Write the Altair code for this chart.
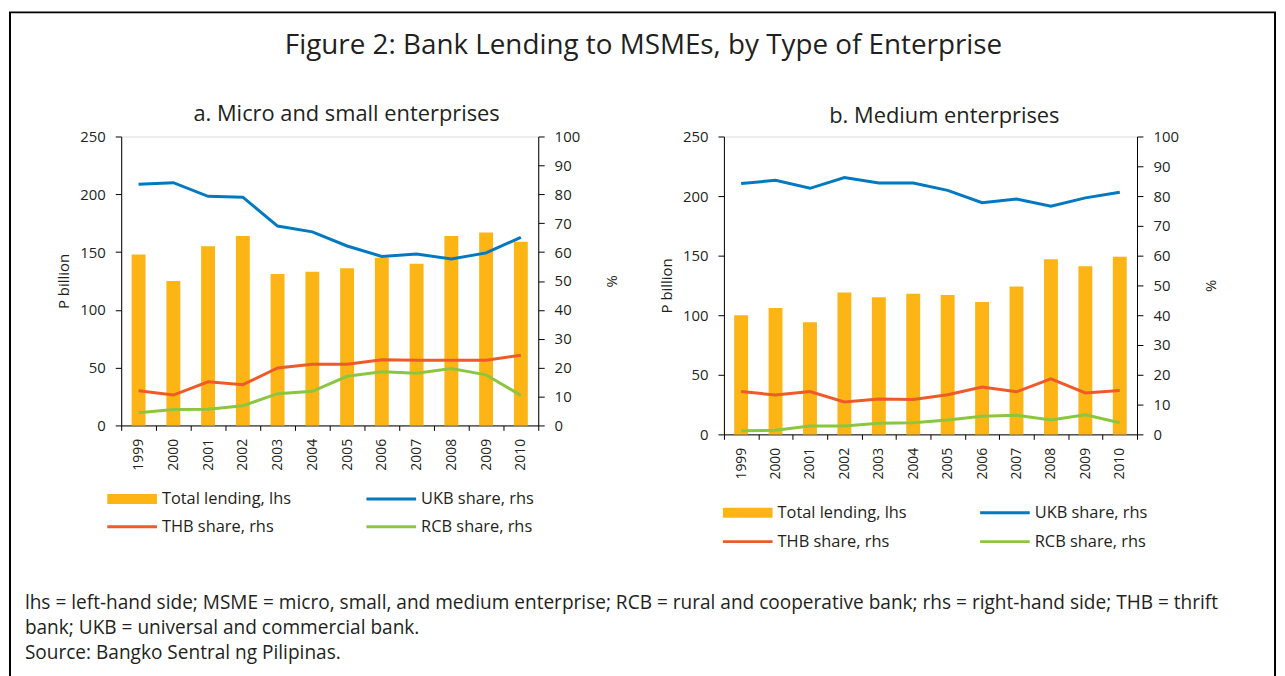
import altair as alt
import pandas as pd

FONT = "Open Sans"
TEXT = "#231f20"

years = [str(y) for y in range(1999, 2011)]

# Panel a: Micro and small enterprises
a_total = [148, 125, 155, 164, 131, 133, 136, 145, 140, 164, 167, 159]
a_ukb = [83.5, 84.0, 79.3, 79.0, 69.0, 67.0, 62.1, 58.5, 59.3, 57.6, 59.7, 65.1]
a_thb = [12.0, 10.5, 15.1, 14.1, 19.9, 21.2, 21.2, 22.7, 22.6, 22.6, 22.6, 24.3]
a_rcb = [4.4, 5.5, 5.6, 6.8, 11.0, 11.8, 17.0, 18.6, 18.1, 19.7, 17.5, 10.4]

# Panel b: Medium enterprises
b_total = [100, 106, 94, 119, 115, 118, 117, 111, 124, 147, 141, 149]
b_ukb = [84.2, 85.3, 82.6, 86.2, 84.4, 84.4, 81.9, 77.8, 79.0, 76.6, 79.4, 81.3]
b_thb = [14.4, 13.2, 14.4, 10.9, 11.9, 11.7, 13.3, 15.9, 14.3, 18.6, 13.9, 14.7]
b_rcb = [1.2, 1.4, 2.8, 2.8, 3.7, 3.9, 4.8, 6.1, 6.4, 4.8, 6.6, 3.9]

series_names = ["UKB share, rhs", "THB share, rhs", "RCB share, rhs"]
bar_name = "Total lending, lhs"
line_colors = ["#0079C1", "#EE5A2A", "#8CC63F"]
bar_color = "#FDB515"

title_text = "Figure 2: Bank Lending to MSMEs, by Type of Enterprise"
subtitle_a = "a. Micro and small enterprises"
subtitle_b = "b. Medium enterprises"
footnote_lines = [
    "lhs = left-hand side; MSME = micro, small, and medium enterprise; RCB = rural and cooperative bank; rhs = right-hand side; THB = thrift",
    "bank; UKB = universal and commercial bank.",
    "Source: Bangko Sentral ng Pilipinas.",
]
lhs_ticks = [0, 50, 100, 150, 200, 250]
rhs_ticks = [0, 10, 20, 30, 40, 50, 60, 70, 80, 90, 100]


def text_layer(label, x, y, size, align="left", baseline="middle"):
    return alt.Chart(pd.DataFrame({"label": [label]})).mark_text(
        align=align, baseline=baseline, fontSize=size, font=FONT, color=TEXT
    ).encode(x=alt.value(x), y=alt.value(y), text="label:N")


def swatch_layer(label, x0, x1, y, color, width):
    return alt.Chart(pd.DataFrame({"label": [label]})).mark_rule(
        color=color, strokeWidth=width
    ).encode(x=alt.value(x0), x2=alt.value(x1), y=alt.value(y))


def legend_layers(p):
    # p: dict with positions (layout, not data)
    out = []
    entries = [
        (bar_name, bar_color, 10, p["c1"], p["r1"]),
        (series_names[0], line_colors[0], 3, p["c2"], p["r1"]),
        (series_names[1], line_colors[1], 3, p["c1"], p["r2"]),
        (series_names[2], line_colors[2], 3, p["c2"], p["r2"]),
    ]
    for label, color, width, cx, ry in entries:
        out.append(swatch_layer(label, cx, cx + 50, ry, color, width))
        out.append(text_layer(label, cx + 55, ry, 16.5))
    return out


def panel(total, ukb, thb, rcb, w, h, extra):
    bars_df = pd.DataFrame({"year": years, "value": total})
    lines_df = pd.DataFrame({
        "year": years * 3,
        "share": ukb + thb + rcb,
        "series": [series_names[0]] * 12 + [series_names[1]] * 12 + [series_names[2]] * 12,
    })
    x_enc = alt.X(
        "year:O",
        scale=alt.Scale(paddingInner=0, paddingOuter=0),
        axis=alt.Axis(
            title=None, labelAngle=-90, tickBand="extent", tickSize=5,
            labelPadding=8, labelFontSize=14, domainColor="#000", tickColor="#000",
            labelColor=TEXT, labelFont=FONT,
        ),
    )
    bars = alt.Chart(bars_df).mark_bar(size=14, color=bar_color).encode(
        x=x_enc,
        y=alt.Y(
            "value:Q",
            scale=alt.Scale(domain=[0, 250], nice=False),
            axis=alt.Axis(
                title="P billion", values=lhs_ticks, tickSize=6, labelPadding=10,
                labelFontSize=15, titleFontSize=15, titleFontWeight="normal",
                titlePadding=8, domainColor="#000", tickColor="#000", grid=False,
                labelColor=TEXT, titleColor=TEXT, labelFont=FONT, titleFont=FONT,
            ),
        ),
    )
    lines = alt.Chart(lines_df).mark_line(strokeWidth=3).encode(
        x=x_enc,
        y=alt.Y(
            "share:Q",
            scale=alt.Scale(domain=[0, 100], nice=False),
            axis=alt.Axis(
                title="%", orient="right", values=rhs_ticks, tickSize=6,
                labelPadding=10, labelFontSize=15, titleFontSize=15,
                titleFontWeight="normal", titlePadding=24, domainColor="#000",
                tickColor="#000", grid=False, labelColor=TEXT, titleColor=TEXT,
                labelFont=FONT, titleFont=FONT,
            ),
        ),
        color=alt.Color(
            "series:N",
            scale=alt.Scale(domain=series_names, range=line_colors),
            legend=None,
        ),
        order=alt.Order("series:N"),
    )
    return alt.layer(bars, lines, *extra).resolve_scale(y="independent").properties(
        width=w, height=h
    )


# Panel a plot origin is at page (121, 134)
frame = alt.Chart(pd.DataFrame({"label": ["frame"]})).mark_rect(
    fill="transparent", stroke="#000", strokeWidth=2
).encode(x=alt.value(-112), x2=alt.value(1162), y=alt.value(-125), y2=alt.value(548))

extra_a = [frame, text_layer(title_text, 526, -91, 28, align="center"),
           text_layer(subtitle_a, 227, -23, 22, align="center")]
for i, line in enumerate(footnote_lines):
    extra_a.append(text_layer(line, -97, 476 + 25 * i, 19.2, baseline="alphabetic"))
extra_a += legend_layers({"c1": -14, "c2": 247, "r1": 365, "r2": 393})

extra_b = [text_layer(subtitle_b, 222, -21, 22, align="center")]
extra_b += legend_layers({"c1": -1, "c2": 258, "r1": 379, "r2": 408})

pa = panel(a_total, a_ukb, a_thb, a_rcb, 420, 291, extra_a)
pb = panel(b_total, b_ukb, b_thb, b_rcb, 416, 300, extra_b)

chart = alt.hconcat(pa, pb, spacing=187, bounds="flush").properties(
    padding=0
).configure_view(stroke="#9a9a9a", strokeWidth=1).configure(
    font=FONT
)

chart.save("out.html", embed_options={"renderer": "svg", "actions": False})
